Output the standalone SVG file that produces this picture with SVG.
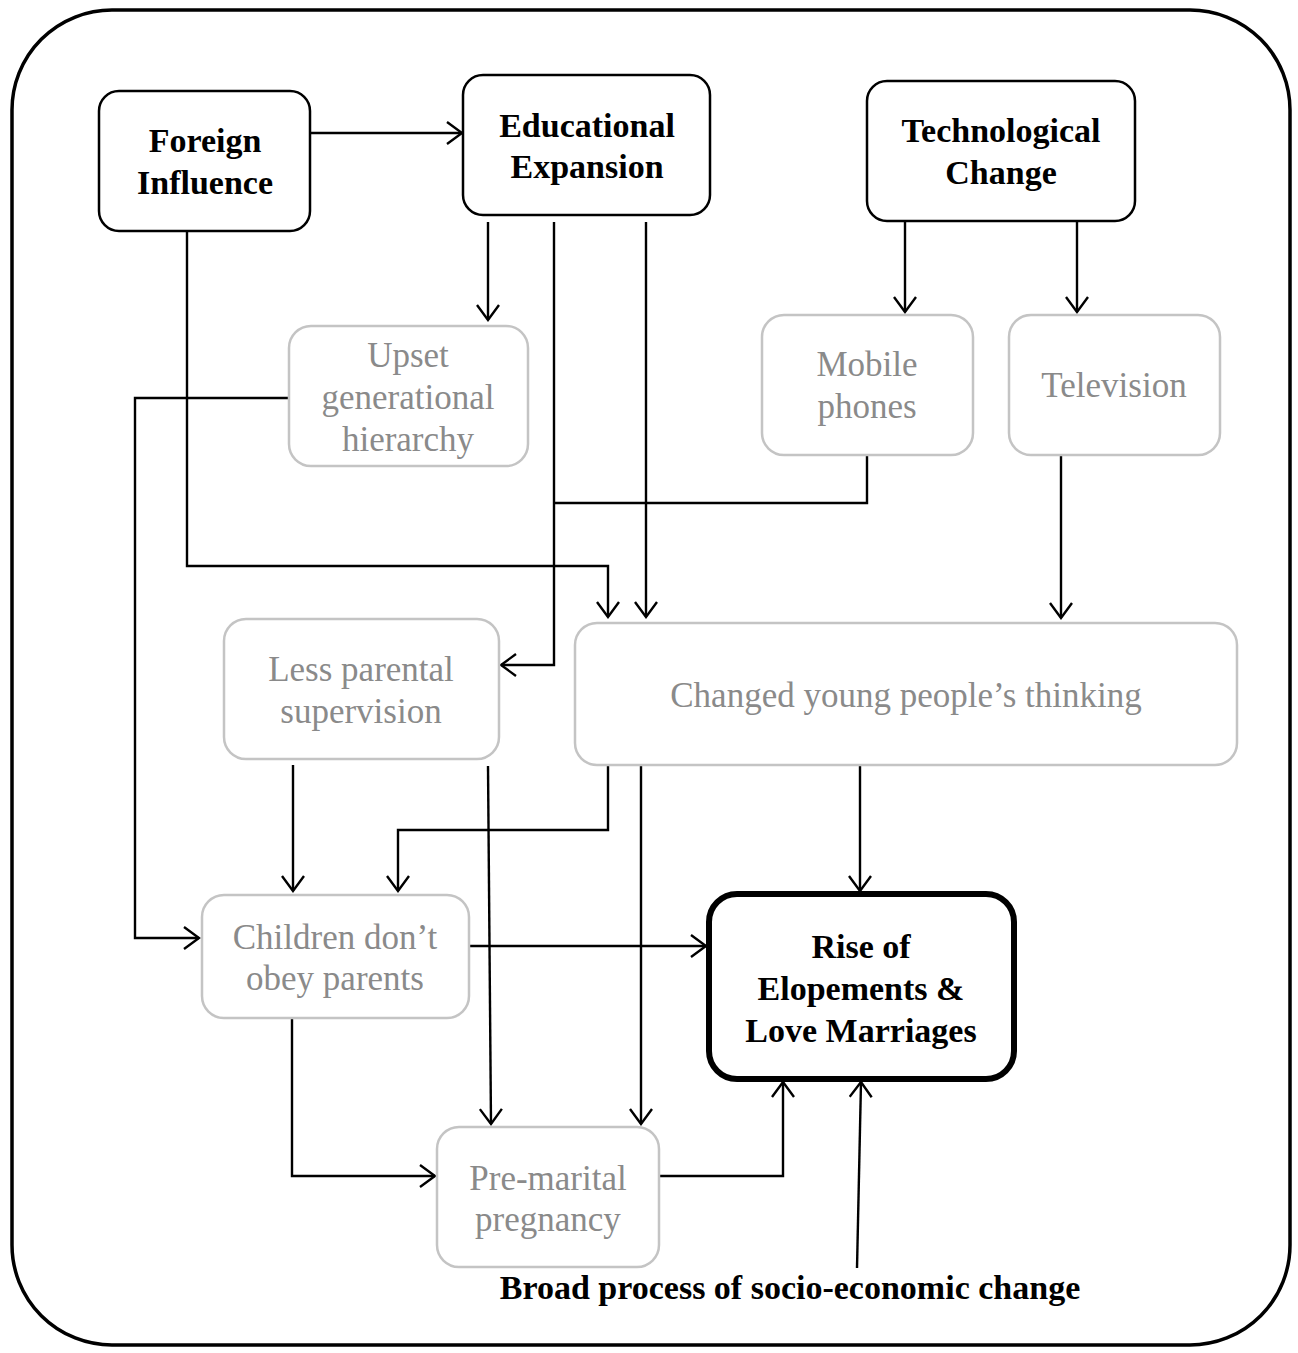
<svg xmlns="http://www.w3.org/2000/svg" width="1298" height="1353" viewBox="0 0 1298 1353">
<style>
.frame{fill:none;stroke:#000;stroke-width:3.5}
.main{fill:#fff;stroke:#000;stroke-width:2.5}
.sub{fill:#fff;stroke:#c4c4c4;stroke-width:2.5}
.out{fill:#fff;stroke:#000;stroke-width:6}
.bt{font-family:"Liberation Serif",serif;font-weight:bold;font-size:34px;fill:#000;text-anchor:middle}
.gt{font-family:"Liberation Serif",serif;font-size:35px;fill:#8a8a8a;text-anchor:middle}
.c{fill:none;stroke:#000;stroke-width:2.4;marker-end:url(#ah)}
.n{fill:none;stroke:#000;stroke-width:2.4}
</style>
<defs>
<marker id="ah" markerUnits="userSpaceOnUse" markerWidth="18" markerHeight="26" refX="16" refY="12" orient="auto">
<path d="M1,1 L16,12 L1,23" fill="none" stroke="#000" stroke-width="2.4"/>
</marker>
</defs>
<rect class="frame" x="12" y="10" width="1278" height="1335" rx="100" ry="100"/>
<g id="connectors">
<line class="c" x1="310" y1="133" x2="462" y2="133"/>
<line class="c" x1="488" y1="222" x2="488" y2="320"/>
<polyline class="c" points="187,231 187,566 608,566 608,617"/>
<polyline class="c" points="554,222 554,665 501,665"/>
<polyline class="n" points="867,455 867,503 554,503"/>
<line class="c" x1="646" y1="222" x2="646" y2="617"/>
<line class="c" x1="905" y1="221" x2="905" y2="312"/>
<line class="c" x1="1077" y1="221" x2="1077" y2="312"/>
<line class="c" x1="1061" y1="455" x2="1061" y2="618"/>
<polyline class="c" points="289,398 135,398 135,938 199,938"/>
<line class="c" x1="293" y1="765" x2="293" y2="891"/>
<line class="c" x1="488" y1="766" x2="491" y2="1124"/>
<polyline class="c" points="608,765 608,830 398,830 398,891"/>
<line class="c" x1="641" y1="766" x2="641" y2="1124"/>
<line class="c" x1="860" y1="766" x2="860" y2="891"/>
<line class="c" x1="469" y1="946" x2="706" y2="946"/>
<polyline class="c" points="292,1018 292,1176 435,1176"/>
<polyline class="c" points="659,1176 783,1176 783,1082"/>
<line class="c" x1="857" y1="1268" x2="861" y2="1082"/>
</g>
<g id="foreign">
<rect class="main" x="99" y="91" width="211" height="140" rx="20"/>
<text class="bt" x="205" y="152">Foreign</text>
<text class="bt" x="205" y="194">Influence</text>
</g>
<g id="education">
<rect class="main" x="463" y="75" width="247" height="140" rx="20"/>
<text class="bt" x="587" y="137">Educational</text>
<text class="bt" x="587" y="178">Expansion</text>
</g>
<g id="technology">
<rect class="main" x="867" y="81" width="268" height="140" rx="20"/>
<text class="bt" x="1001" y="142">Technological</text>
<text class="bt" x="1001" y="184">Change</text>
</g>
<g id="upset">
<rect class="sub" x="289" y="326" width="239" height="140" rx="22"/>
<text class="gt" x="408" y="367">Upset</text>
<text class="gt" x="408" y="409">generational</text>
<text class="gt" x="408" y="451">hierarchy</text>
</g>
<g id="mobile">
<rect class="sub" x="762" y="315" width="211" height="140" rx="22"/>
<text class="gt" x="867" y="376">Mobile</text>
<text class="gt" x="867" y="418">phones</text>
</g>
<g id="television">
<rect class="sub" x="1009" y="315" width="211" height="140" rx="22"/>
<text class="gt" x="1114" y="397">Television</text>
</g>
<g id="supervision">
<rect class="sub" x="224" y="619" width="275" height="140" rx="22"/>
<text class="gt" x="361" y="681">Less parental</text>
<text class="gt" x="361" y="723">supervision</text>
</g>
<g id="thinking">
<rect class="sub" x="575" y="623" width="662" height="142" rx="22"/>
<text class="gt" x="906" y="707">Changed young people’s thinking</text>
</g>
<g id="children">
<rect class="sub" x="202" y="895" width="267" height="123" rx="22"/>
<text class="gt" x="335" y="949">Children don’t</text>
<text class="gt" x="335" y="990">obey parents</text>
</g>
<g id="pregnancy">
<rect class="sub" x="437" y="1127" width="222" height="140" rx="22"/>
<text class="gt" x="548" y="1190">Pre-marital</text>
<text class="gt" x="548" y="1231">pregnancy</text>
</g>
<g id="rise">
<rect class="out" x="709" y="894" width="305" height="185" rx="28"/>
<text class="bt" x="861" y="958">Rise of</text>
<text class="bt" x="861" y="1000">Elopements &amp;</text>
<text class="bt" x="861" y="1042">Love Marriages</text>
</g>
<g id="broad">
<text class="bt" x="790" y="1299">Broad process of socio-economic change</text>
</g>
</svg>
